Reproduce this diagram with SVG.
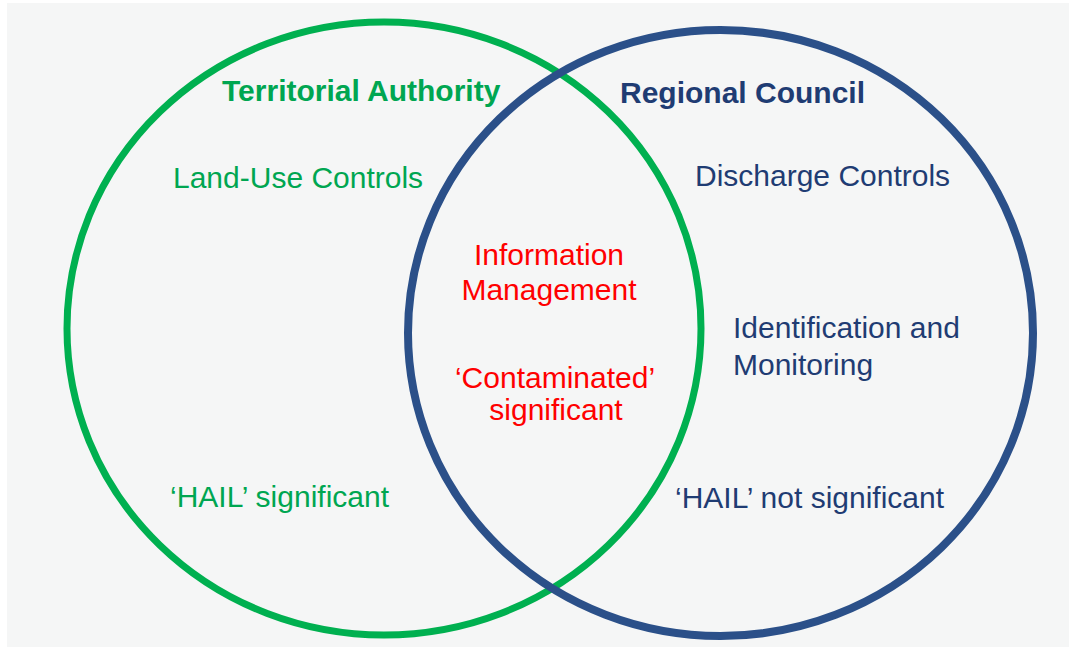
<svg xmlns="http://www.w3.org/2000/svg" width="1069" height="650" viewBox="0 0 1069 650">
  <style>
    text { font-family: "Liberation Sans", Arial, sans-serif; font-size: 30px; }
    .title { font-weight: bold; }
    .ring { fill: none; }
    .ta { fill: #00a651; }
    .rc { fill: #1f3c73; }
    .shared { fill: #ff0000; text-anchor: middle; }
  </style>
  <!-- page backdrop -->
  <rect x="0" y="0" width="1069" height="650" fill="#ffffff"/>
  <rect x="7" y="3" width="1062" height="644" fill="#f5f6f6"/>

  <!-- Territorial Authority ring -->
  <g id="territorial-authority">
    <ellipse class="ring" cx="384" cy="328.5" rx="317" ry="306.5" stroke="#00b050" stroke-width="7"/>
    <text class="title ta" x="222" y="101">Territorial Authority</text>
    <text class="ta" x="173" y="188">Land-Use Controls</text>
    <text class="ta" x="170" y="507">‘HAIL’ significant</text>
  </g>

  <!-- Regional Council ring -->
  <g id="regional-council">
    <ellipse class="ring" cx="720.5" cy="333" rx="312.5" ry="303" stroke="#2b5089" stroke-width="8"/>
    <text class="title rc" x="620" y="103">Regional Council</text>
    <text class="rc" x="695" y="186">Discharge Controls</text>
    <text class="rc" x="733" y="338">Identification and</text>
    <text class="rc" x="733" y="375">Monitoring</text>
    <text class="rc" x="675" y="508">‘HAIL’ not significant</text>
  </g>

  <!-- shared responsibilities in the overlap -->
  <g id="overlap">
    <text class="shared" x="549" y="265">Information</text>
    <text class="shared" x="549" y="300">Management</text>
    <text class="shared" x="555" y="388">‘Contaminated’</text>
    <text class="shared" x="556" y="420">significant</text>
  </g>

  <g id="connectors"/>
</svg>
